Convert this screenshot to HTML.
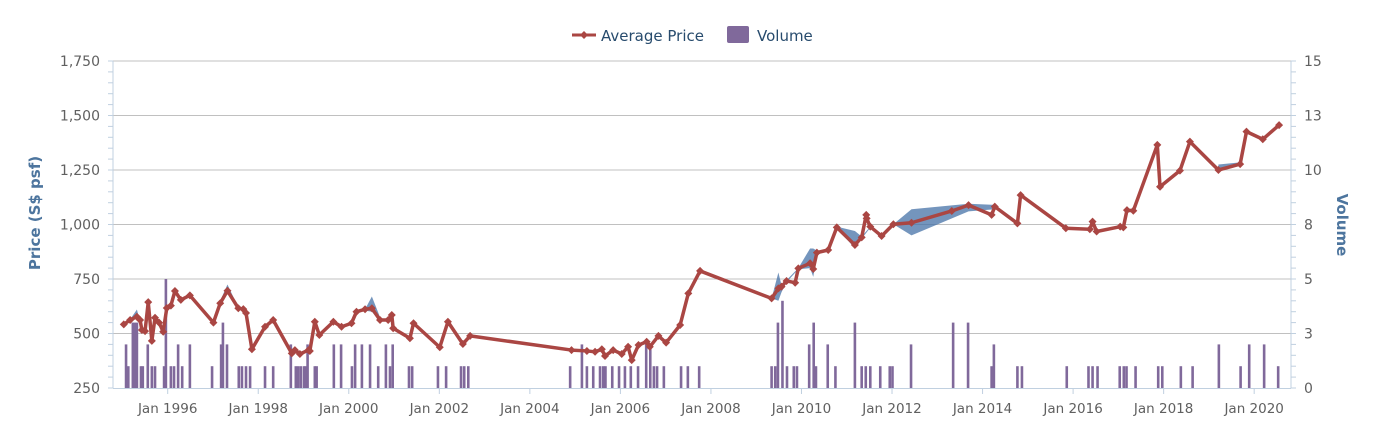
<!DOCTYPE html>
<html><head><meta charset="utf-8">
<style>
html,body{margin:0;padding:0;background:#fff;}
body{width:1380px;height:436px;overflow:hidden;font-family:"DejaVu Sans","Liberation Sans",sans-serif;}
svg text{font-family:"DejaVu Sans","Liberation Sans",sans-serif;}
</style></head>
<body>
<svg id="chart" width="1380" height="436" viewBox="0 0 1380 436" xmlns="http://www.w3.org/2000/svg">
  <g id="grid"></g>
  <g id="bars"></g>
  <g id="band"></g>
  <g id="line"></g>
  <g id="axes"></g>
  <g>
    <g>
      <line x1="572" y1="35" x2="596" y2="35" stroke="#aa4643" stroke-width="3"/>
      <path d="M584 31 L588 35 L584 39 L580 35 Z" fill="#aa4643"/>
      <text x="601" y="41" font-size="15" fill="#274b6d">Average Price</text>
    </g>
    <g>
      <rect x="727" y="26" width="22" height="17" rx="2" fill="#80699b"/>
      <text x="757" y="41" font-size="15" fill="#274b6d">Volume</text>
    </g>
  </g>
  <text transform="translate(40,213) rotate(-90)" text-anchor="middle" font-size="15" font-weight="bold" fill="#4d759e">Price (S$ psf)</text>
  <text transform="translate(1337,225) rotate(90)" text-anchor="middle" font-size="15" font-weight="bold" fill="#4d759e">Volume</text>
</svg>
<script>
const priceDates=[1995.03,1995.17,1995.32,1995.39,1995.43,1995.50,1995.57,1995.65,1995.72,1995.81,1995.90,1995.98,1996.07,1996.16,1996.29,1996.49,1997.01,1997.16,1997.32,1997.56,1997.67,1997.73,1997.86,1998.15,1998.33,1998.74,1998.81,1998.92,1999.11,1999.14,1999.25,1999.35,1999.66,1999.84,2000.06,2000.17,2000.36,2000.51,2000.69,2000.87,2000.95,2000.98,2001.35,2001.43,2002.01,2002.19,2002.52,2002.68,2004.92,2005.26,2005.44,2005.59,2005.66,2005.84,2006.03,2006.17,2006.25,2006.40,2006.58,2006.65,2006.84,2007.01,2007.32,2007.50,2007.76,2009.34,2009.49,2009.56,2009.67,2009.86,2009.93,2010.19,2010.26,2010.34,2010.59,2010.78,2011.18,2011.33,2011.43,2011.44,2011.52,2011.77,2012.03,2012.43,2013.32,2013.69,2014.20,2014.27,2014.77,2014.84,2015.84,2016.37,2016.43,2016.52,2017.04,2017.11,2017.19,2017.33,2017.86,2017.92,2018.36,2018.58,2019.21,2019.69,2019.83,2020.19,2020.55];
const priceValues=[542,562,577,562,516,511,644,466,572,550,508,617,628,695,654,675,550,639,696,616,612,594,428,531,562,409,424,406,424,420,554,493,554,531,547,600,611,616,562,562,585,524,478,547,437,554,452,489,424,420,416,428,397,424,406,439,378,447,462,439,489,458,539,684,787,661,707,715,741,733,799,822,796,871,883,987,906,941,1044,1028,990,947,1001,1008,1062,1089,1044,1082,1005,1135,983,978,1013,968,990,987,1066,1063,1365,1173,1247,1380,1250,1277,1426,1391,1456];
const bandSegDates=[[1995.17,1995.32,1995.43],[1997.16,1997.32,1997.56],[2000.36,2000.51,2000.69],[2009.34,2009.49,2009.56,2009.67,2009.93,2010.19,2010.26,2010.34,2010.59],[2010.78,2011.18,2011.33,2011.52],[2012.03,2012.43,2013.69,2014.27],[2019.21,2019.69]];
const bandSegHigh=[[565,610,520],[650,725,620],[611,670,575],[661,780,720,745,800,890,890,880,883],[990,970,945,990],[1001,1070,1095,1090],[1275,1285]];
const bandSegLow=[[560,570,512],[635,690,612],[605,600,555],[661,650,690,735,795,800,760,860,883],[985,890,935,985],[1001,950,1060,1070],[1250,1275]];
const volDates=[1995.08,1995.13,1995.23,1995.28,1995.32,1995.41,1995.45,1995.56,1995.65,1995.72,1995.92,1995.96,1996.07,1996.14,1996.23,1996.32,1996.49,1996.98,1997.18,1997.22,1997.31,1997.57,1997.64,1997.73,1997.82,1998.15,1998.33,1998.72,1998.83,1998.88,1998.94,1999.01,1999.05,1999.09,1999.25,1999.29,1999.67,1999.83,2000.07,2000.14,2000.29,2000.47,2000.65,2000.82,2000.91,2000.97,2001.33,2001.40,2001.97,2002.15,2002.48,2002.55,2002.64,2004.89,2005.15,2005.26,2005.40,2005.55,2005.62,2005.67,2005.82,2005.97,2006.10,2006.23,2006.39,2006.57,2006.66,2006.74,2006.81,2006.96,2007.34,2007.49,2007.74,2009.34,2009.42,2009.48,2009.58,2009.68,2009.83,2009.90,2010.17,2010.27,2010.32,2010.58,2010.75,2011.18,2011.33,2011.42,2011.52,2011.74,2011.95,2012.01,2012.42,2013.35,2013.68,2014.20,2014.25,2014.77,2014.87,2015.86,2016.34,2016.43,2016.54,2017.03,2017.12,2017.18,2017.38,2017.88,2017.97,2018.38,2018.64,2019.22,2019.70,2019.89,2020.22,2020.53];
const volValues=[2,1,3,3,3,1,1,2,1,1,1,5,1,1,2,1,2,1,2,3,2,1,1,1,1,1,1,2,1,1,1,1,1,2,1,1,2,2,1,2,2,2,1,2,1,2,1,1,1,1,1,1,1,1,2,1,1,1,1,1,1,1,1,1,1,2,2,1,1,1,1,1,1,1,1,3,4,1,1,1,2,3,1,2,1,3,1,1,1,1,1,1,2,3,3,1,2,1,1,1,1,1,1,1,1,1,1,1,1,1,1,2,1,2,2,1];
const priceTicks=[250,500,750,1000,1250,1500,1750];
const priceTickLabels=["250","500","750","1,000","1,250","1,500","1,750"];
const volTickLabels=["0","3","5","8","10","13","15"];
const yearTicks=[1996,1998,2000,2002,2004,2006,2008,2010,2012,2014,2016,2018,2020];

const NS="http://www.w3.org/2000/svg";
const L=113,R=1291,T=61,B=388;
const xs=t=>167.7+(t-1996)*45.27;
const yp=p=>B-(p-250)*(B-T)/1500;
const yv=v=>B-v*(B-T)/15;
function mk(tag,attrs,parent){const e=document.createElementNS(NS,tag);for(const k in attrs)e.setAttribute(k,attrs[k]);parent.appendChild(e);return e;}
const grid=document.getElementById('grid'),axes=document.getElementById('axes');
priceTicks.forEach((p,i)=>{
  if(i>0){const g=mk('line',{x1:L,x2:R,y1:yp(p),y2:yp(p),stroke:'#c0c0c0','stroke-width':1},grid);
  
  }
  const t=mk('text',{x:100,y:yp(p)+5,'text-anchor':'end','font-size':14,fill:'#606060'},axes);
  t.textContent=priceTickLabels[i];
  
  
  const t2=mk('text',{x:1304,y:yp(p)+5,'text-anchor':'start','font-size':14,fill:'#606060'},axes);
  t2.textContent=volTickLabels[i];
  
  
});
for(let k=0;k<=30;k++){const y=B-k*(B-T)/30;
  mk('line',{x1:108,x2:113,y1:y,y2:y,stroke:'#c0d0e0'},axes);
  mk('line',{x1:1291,x2:1296,y1:y,y2:y,stroke:'#c0d0e0'},axes);}
mk('line',{x1:113,x2:113,y1:T,y2:B,stroke:'#c0d0e0'},axes);
mk('line',{x1:1291,x2:1291,y1:T,y2:B,stroke:'#c0d0e0'},axes);
mk('line',{x1:L,x2:R,y1:B+0.5,y2:B+0.5,stroke:'#c0d0e0'},axes);
yearTicks.forEach(y=>{const x=xs(y);
  mk('line',{x1:x,x2:x,y1:B,y2:B+6,stroke:'#c0d0e0'},axes);
  const t=mk('text',{x:x,y:413,'text-anchor':'middle','font-size':13.5,fill:'#606060'},axes);
  t.textContent='Jan '+y;
  
  });
const bars=document.getElementById('bars');
volDates.forEach((d,i)=>{const r=mk('rect',{x:xs(d)-1.3,y:yv(volValues[i]),width:2.6,height:B-yv(volValues[i]),fill:'#80699b'},bars);
  
  });
const band=document.getElementById('band');
bandSegDates.forEach((ds,s)=>{
  let pts=ds.map((d,i)=>xs(d)+','+yp(bandSegHigh[s][i]));
  for(let i=ds.length-1;i>=0;i--)pts.push(xs(ds[i])+','+yp(bandSegLow[s][i]));
  const p=mk('polygon',{points:pts.join(' '),fill:'#4572a7','fill-opacity':0.75},band);
  
  });
const line=document.getElementById('line');
const pl=mk('polyline',{points:priceDates.map((d,i)=>xs(d)+','+yp(priceValues[i])).join(' '),fill:'none',stroke:'#aa4643','stroke-width':3.5,'stroke-linejoin':'round'},line);


priceDates.forEach((d,i)=>{const x=xs(d),y=yp(priceValues[i]);
  const m=mk('path',{d:`M${x} ${y-4}L${x+4} ${y}L${x} ${y+4}L${x-4} ${y}Z`,fill:'#aa4643'},line);
  
  });
</script>
</body></html>
